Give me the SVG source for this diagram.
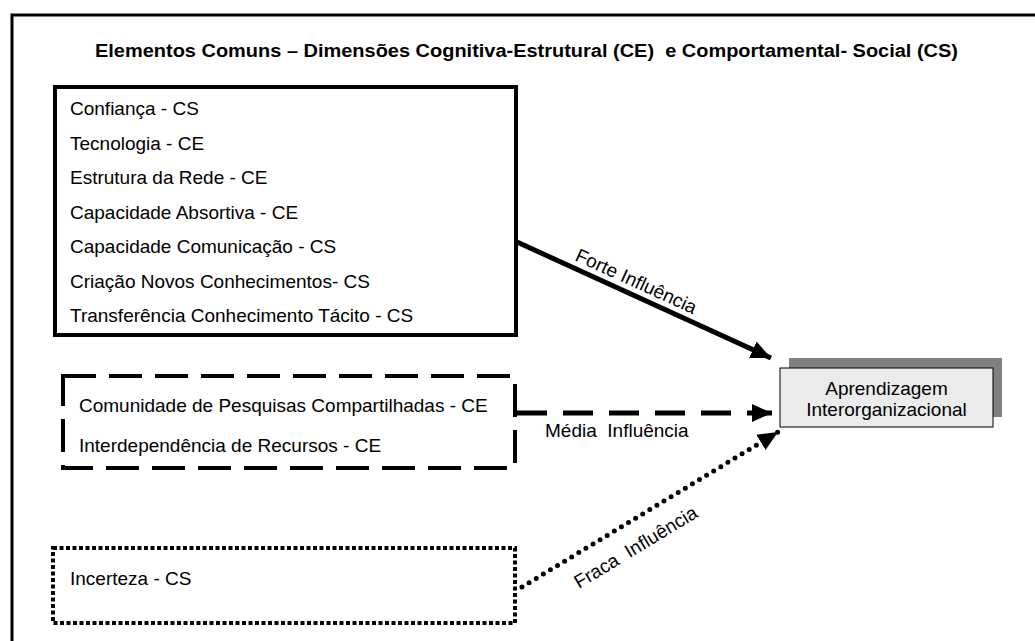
<svg xmlns="http://www.w3.org/2000/svg" width="1035" height="641" viewBox="0 0 1035 641">
<defs>
<style>
text{font-family:"Liberation Sans",Arial,sans-serif;fill:#000}
.t{font-size:19px}
.title{font-size:17.5px;font-weight:bold}
.box{fill:#fff;stroke:#000}
</style>
<marker id="ah" markerUnits="userSpaceOnUse" markerWidth="22" markerHeight="20" refX="20" refY="9" orient="auto">
<path d="M0,0 L20,9 L0,18 Z" fill="#000"/>
</marker>
</defs>
<rect x="0" y="0" width="1035" height="641" fill="#fff"/>
<rect id="frame" x="12" y="15" width="1040" height="640" fill="none" stroke="#000" stroke-width="3"/>
<text class="title" x="95" y="57" textLength="863" lengthAdjust="spacingAndGlyphs" xml:space="preserve">Elementos Comuns – Dimensões Cognitiva-Estrutural (CE)  e Comportamental- Social (CS)</text>

<g id="connectors" fill="none" stroke="#000">
<line x1="517" y1="242" x2="771" y2="358" stroke-width="5" marker-end="url(#ah)"/>
<line x1="517" y1="413" x2="772" y2="413" stroke-width="5" stroke-dasharray="30 16" marker-end="url(#ah)"/>
<line x1="522" y1="587" x2="778" y2="432" stroke-width="5" stroke-linecap="round" stroke-dasharray="0 8.3" marker-end="url(#ah)"/>
<text class="t" transform="translate(574,260) rotate(24.5)" stroke="none">Forte Influência</text>
<text class="t" x="545" y="437" stroke="none" xml:space="preserve">Média  Influência</text>
<text class="t" transform="translate(579,589) rotate(-31.2)" stroke="none" xml:space="preserve">Fraca  Influência</text>
</g>

<g id="node-forte">
<rect class="box" x="55" y="87" width="461" height="248" stroke-width="4"/>
<text class="t" x="70" y="115">Confiança - CS</text>
<text class="t" x="70" y="149.5">Tecnologia - CE</text>
<text class="t" x="70" y="184">Estrutura da Rede - CE</text>
<text class="t" x="70" y="218.5">Capacidade Absortiva - CE</text>
<text class="t" x="70" y="253">Capacidade Comunicação - CS</text>
<text class="t" x="70" y="287.5">Criação Novos Conhecimentos- CS</text>
<text class="t" x="70" y="322">Transferência Conhecimento Tácito - CS</text>
</g>

<g id="node-media">
<rect x="63" y="376" width="452" height="92" fill="none" stroke="#000" stroke-width="4" stroke-dasharray="33 13"/>
<text class="t" x="79" y="412">Comunidade de Pesquisas Compartilhadas - CE</text>
<text class="t" x="79" y="452">Interdependência de Recursos - CE</text>
</g>

<g id="node-fraca">
<rect x="53" y="548" width="462" height="75" fill="none" stroke="#000" stroke-width="4" stroke-dasharray="4 2.5"/>
<text class="t" x="70" y="585">Incerteza - CS</text>
</g>

<g id="node-aprendizagem">
<rect x="789" y="358" width="213" height="59" fill="#808080"/>
<rect x="780" y="368" width="213" height="59" fill="#ebebeb" stroke="#000" stroke-width="1"/>
<text class="t" x="886.5" y="395" text-anchor="middle">Aprendizagem</text>
<text class="t" x="886.5" y="416" text-anchor="middle">Interorganizacional</text>
</g>
</svg>
